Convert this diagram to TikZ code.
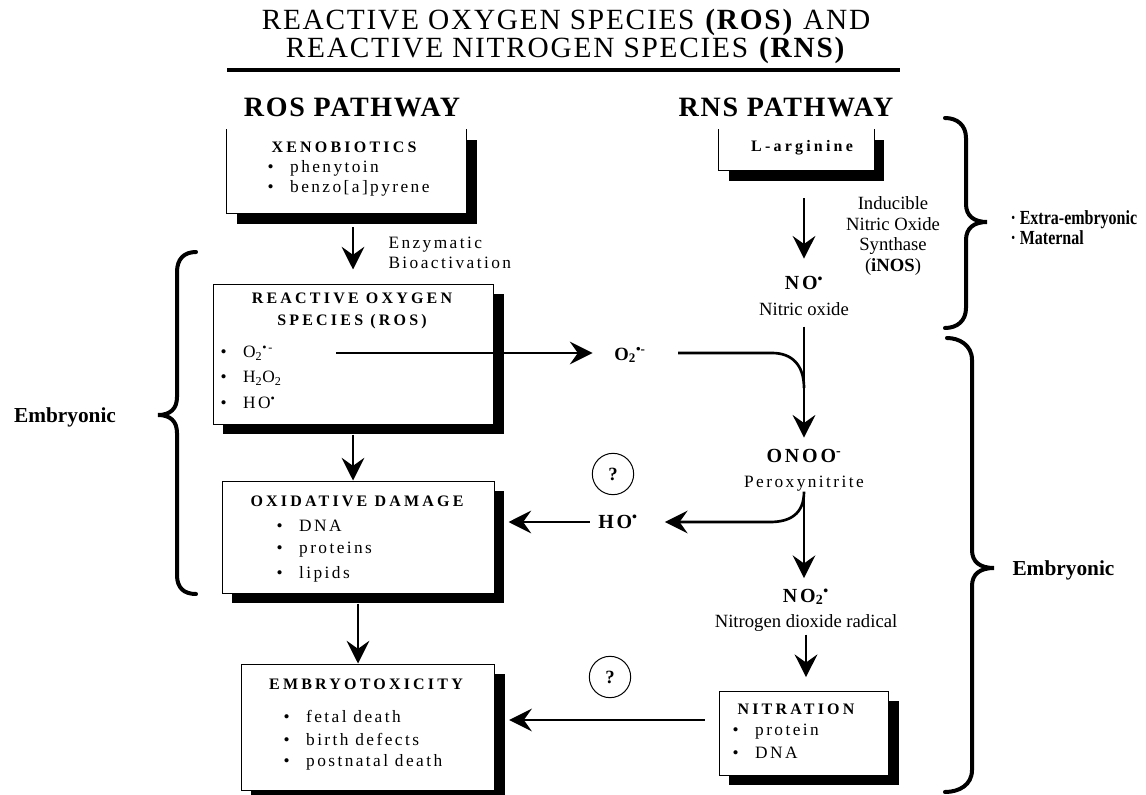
\documentclass[tikz,border=0pt]{standalone}
\usepackage{fontspec}
\setmainfont{Liberation Serif}
\newfontfamily\titlefont[LetterSpace=6]{Liberation Serif}
\newfontfamily\headfont[LetterSpace=20]{Liberation Serif}
\newfontfamily\trackfont[LetterSpace=14]{Liberation Serif}
\newfontfamily\narrowfont[FakeStretch=0.8]{Liberation Serif}
\usetikzlibrary{arrows.meta,fit}

\newcommand{\blt}{\makebox[17pt][l]{\textbullet}}
\newcommand{\rad}{\textsuperscript{\textbullet}}

\tikzset{every picture/.style={line width=0.75pt}}
\tikzset{
  flow/.style={line width=2pt,-{Stealth[length=17pt,width=17pt,inset=6pt]}},
  link/.style={line width=2pt},
  bracestroke/.style={line width=3pt,line cap=round},
  box/.style={draw,fill=white,inner sep=0pt},
  openbox/.style={fill=white,inner sep=0pt},
  boxhead/.style={font=\fontsize{12}{16.5}\selectfont\headfont\bfseries,align=center,inner sep=0pt},
  boxitem/.style={font=\fontsize{13}{15}\selectfont\trackfont,anchor=west,inner sep=0pt},
  sidenote/.style={font=\fontsize{14}{15.5}\selectfont,align=center,inner sep=0pt},
  chemlab/.style={font=\fontsize{15}{19}\selectfont,align=center,inner sep=0pt},
  query/.style={draw,circle,minimum size=31pt,inner sep=0pt,font=\fontsize{14}{16}\selectfont\bfseries},
  bigword/.style={font=\fontsize{16}{18}\selectfont\bfseries,inner sep=0pt}
}

\begin{document}
\begin{tikzpicture}[x=0.75pt,y=0.75pt,yscale=-1]
\useasboundingbox (0,0) rectangle (1146,795);

% Text Node
\node[font=\fontsize{22}{19.5}\selectfont\titlefont,align=center,inner sep=0pt] (title) at (566,36) {REACTIVE OXYGEN SPECIES \textbf{(ROS)} AND\\REACTIVE NITROGEN SPECIES \textbf{(RNS)}};
%Straight Lines
\draw[line width=3pt] (227,70) -- (900,70);
% Text Node
\node[font=\fontsize{21}{24}\selectfont\bfseries\addfontfeature{LetterSpace=6},inner sep=0pt] (rospath) at (352,107) {ROS PATHWAY};
% Text Node
\node[font=\fontsize{21}{24}\selectfont\bfseries\addfontfeature{LetterSpace=6},inner sep=0pt] (rnspath) at (786,107) {RNS PATHWAY};

%Shape: Shadows
\fill (237,140) rectangle (477,224);
\fill (223,294) rectangle (504,434);
\fill (232,491) rectangle (504,603);
\fill (251,674) rectangle (505,800);
\fill (729,140) rectangle (884,181);
\fill (729,701) rectangle (899,785);

%Shape: Rectangle
\node[openbox,fit={(227,130) (466,213)}] (xeno) {};
\draw (xeno.north west) -- (xeno.south west) -- (xeno.south east) -- (xeno.north east);
%Shape: Rectangle
\node[box,fit={(213,284) (493,424)}] (ros) {};
%Shape: Rectangle
\node[box,fit={(222,481) (494,593)}] (oxid) {};
%Shape: Rectangle
\node[box,fit={(241,664) (494,790)}] (embryo) {};
%Shape: Rectangle
\node[openbox,fit={(719,130) (874,170)}] (larg) {};
\draw (larg.north west) -- (larg.south west) -- (larg.south east) -- (larg.north east);
%Shape: Rectangle
\node[box,fit={(719,691) (888,775)}] (nitr) {};

% Text Node
\node[boxhead] (xenohead) at (344,147) {XENOBIOTICS};
\node[boxitem] (xenoa) at (267,168) {\blt phenytoin};
\node[boxitem] (xenob) at (267,188) {\blt benzo[a]pyrene};
% Text Node
\node[boxhead] (roshead) at (352,311) {REACTIVE OXYGEN\\SPECIES (ROS)};
\node[boxitem] (o2item) at (220,353) {\blt O\textsubscript{2}\textsuperscript{\textbullet-}};
\node[boxitem] (h2o2item) at (220,378) {\blt H\textsubscript{2}O\textsubscript{2}};
\node[boxitem] (hoitem) at (220,403) {\blt HO\rad};
% Text Node
\node[boxhead] (oxidhead) at (357,501) {OXIDATIVE DAMAGE};
\node[boxitem] (oxida) at (276,526) {\blt DNA};
\node[boxitem] (oxidb) at (276,550) {\blt proteins};
\node[boxitem] (oxidc) at (276,574) {\blt lipids};
% Text Node
\node[boxhead] (embhead) at (366,684) {EMBRYOTOXICITY};
\node[boxitem] (emba) at (283,716) {\blt fetal death};
\node[boxitem] (embb) at (283,739) {\blt birth defects};
\node[boxitem] (embc) at (283,762) {\blt postnatal death};
% Text Node
\node[boxhead] (larghead) at (802,148) {L-arginine};
% Text Node
\node[boxhead] (nitrhead) at (796,709) {NITRATION};
\node[boxitem] (nitra) at (732,732) {\blt protein};
\node[boxitem] (nitrb) at (732,753) {\blt DNA};

% Text Node
\node[font=\fontsize{13}{15}\selectfont\trackfont,align=left,anchor=west,inner sep=0pt] (enzy) at (388,253) {Enzymatic\\Bioactivation};
% Text Node
\node[sidenote] (inos) at (893,236) {Inducible\\Nitric Oxide\\Synthase\\(\textbf{iNOS})};
% Text Node
\node[chemlab] (no) at (804,296) {{\trackfont\bfseries NO\rad}\\{\fontsize{14}{19}\selectfont Nitric oxide}};
% Text Node
\node[chemlab] (onoo) at (804,470) {{\trackfont\bfseries ONOO\textsuperscript{-}}\\{\fontsize{13}{19}\selectfont\trackfont Peroxynitrite}};
% Text Node
\node[chemlab] (no2) at (806,610) {{\trackfont\bfseries NO\textsubscript{2}\rad}\\{\fontsize{14}{19}\selectfont Nitrogen dioxide radical}};
% Text Node
\node[chemlab,font=\fontsize{14}{16}\selectfont\bfseries] (o2lab) at (630,355) {O\textsubscript{2}\textsuperscript{\textbullet-}};
% Text Node
\node[chemlab,font=\fontsize{15}{16}\selectfont\trackfont\bfseries] (holab) at (618,522) {HO\rad};
% Text Node
\node[query] (q1) at (613,474) {?};
\node[query] (q2) at (610,677) {?};

% Text Node
\node[bigword] (embl) at (65,417) {Embryonic};
\node[bigword,anchor=west] (embr) at (1012,570) {Embryonic};
\node[font=\fontsize{15}{15}\selectfont\narrowfont\bfseries,align=left,anchor=west,inner sep=0pt] (extra) at (1010,228) {\textperiodcentered\ Extra-embryonic\\\textperiodcentered\ Maternal};

%Straight Lines
\draw[flow,shorten <=10.5pt,shorten >=10.5pt] (xeno.south -| ros.north) -- (ros.north);
\draw[flow,shorten <=7.5pt] (ros.south) -- (ros.south |- oxid.north);
\draw[flow,shorten <=7.5pt] (oxid.south) -- (oxid.south |- embryo.north);
\draw[flow,shorten <=21pt,shorten >=13pt] (larg.south -| no.north) -- (no.north);
\draw[flow,shorten <=8pt,shorten >=8pt] (no.south) -- (onoo.north);
\draw[flow,shorten <=47pt,shorten >=16pt] (o2item.east) -- (o2item.east -| o2lab.west);
%Curve Lines
\coordinate (bend1) at (772,353);
\coordinate (join1) at (804,388);
\draw[link,shorten <=24pt] (o2lab.east |- bend1) -- (bend1) .. controls (792,353) and (804,365) .. (join1);
\coordinate (bend2) at (770,522);
\draw[flow,shorten >=20pt] (onoo.south) .. controls (804,514) and (790,522) .. (bend2) -- (bend2 -| holab.east);
%Straight Lines
\draw[flow,shorten >=7.5pt] (onoo.south) -- (onoo.south |- no2.north);
\draw[flow,shorten <=6pt,shorten >=10.5pt] (holab.west) -- (holab.west -| oxid.east);
\draw[flow,shorten <=2pt,shorten >=10pt] (no2.south) -- (no2.south |- nitr.north);
\coordinate (nitrout) at ([shift={(0,-13)}]nitr.west);
\draw[flow,shorten <=10.5pt,shorten >=11pt] (nitrout) -- (nitrout -| embryo.east);

%Curve Lines
\draw[bracestroke] (196,252) .. controls (184,252) and (177,259) .. (177,272) -- (177,397) .. controls (177,409) and (170,415) .. (158,415) .. controls (170,415) and (177,421) .. (177,433) -- (177,575) .. controls (177,588) and (184,594) .. (196,594);
\draw[bracestroke] (945,118) .. controls (957,118) and (966,125) .. (966,138) -- (966,204) .. controls (966,216) and (974,222) .. (987,222) .. controls (974,222) and (966,228) .. (966,240) -- (966,308) .. controls (966,321) and (957,328) .. (945,328);
\draw[bracestroke] (947,338) .. controls (959,338) and (972,345) .. (972,360) -- (972,550) .. controls (972,562) and (980,568) .. (994,568) .. controls (980,568) and (972,574) .. (972,586) -- (972,770) .. controls (972,785) and (959,792) .. (945,792);

\end{tikzpicture}
\end{document}
